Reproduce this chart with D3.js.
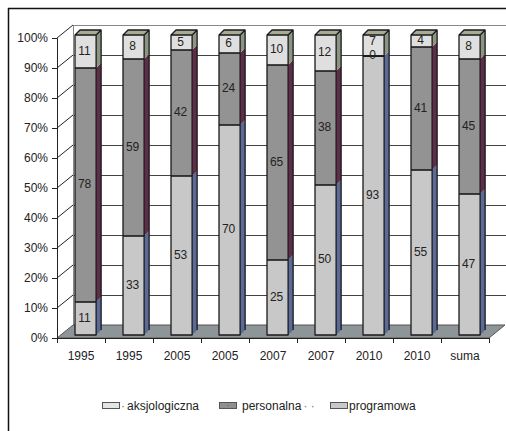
<!DOCTYPE html>
<html>
<head>
<meta charset="utf-8">
<script src="https://cdn.jsdelivr.net/npm/d3@7"></script>
<style>
  html, body { margin: 0; padding: 0; background: #fff; }
  svg { display: block; font-family: "Liberation Sans", Arial, sans-serif; }
</style>
</head>
<body>
<div id="chart"></div>
<script>
// Shares of three categories per survey year (percent, stacked to 100)
const categories    = ["1995", "1995", "2005", "2005", "2007", "2007", "2010", "2010", "suma"];
const programowa    = [11, 33, 53, 70, 25, 50, 93, 55, 47];
const personalna    = [78, 59, 42, 24, 65, 38, 0, 41, 45];
const aksjologiczna = [11, 8, 5, 6, 10, 12, 7, 4, 8];
const yTicks        = [0, 10, 20, 30, 40, 50, 60, 70, 80, 90, 100];
const seriesNames   = ["aksjologiczna", "personalna", "programowa"];

const W = 506, H = 431;
const svg = d3.select("#chart").append("svg").attr("width", W).attr("height", H);

// outer frame (top and left edges)
svg.append("line").attr("x1", 8).attr("x2", W).attr("y1", 8.5).attr("y2", 8.5)
  .attr("stroke", "#111").attr("stroke-width", 1.5);
svg.append("line").attr("x1", 8.5).attr("x2", 8.5).attr("y1", 8).attr("y2", H)
  .attr("stroke", "#111").attr("stroke-width", 1.5);

const x = d3.scaleBand().domain(d3.range(categories.length)).range([57, 489]);
const y = d3.scaleLinear().domain([0, 100]).range([338, 38]);
const bw = x.bandwidth();

// 3D offsets
const wall = { dx: 16, dy: -13 };   // depth of the plot box
const barShift = { dx: 0, dy: -3 }; // bars sit slightly behind front plane
const barDepth = { dx: 5, dy: -5 }; // thickness of each column

const colors = {
  aksjologiczna: { front: "#dfdfdf", side: "#8e9482", top: "#a8aa94" },
  personalna:    { front: "#939393", side: "#5f2d48", top: "#7a6a72" },
  programowa:    { front: "#c8c8c8", side: "#5a6b97", top: "#9aa0b0" }
};

// back wall
const g = svg.append("g");
g.append("rect")
  .attr("x", 57 + wall.dx).attr("y", y(100) + wall.dy)
  .attr("width", W - (57 + wall.dx)).attr("height", y(0) - y(100))
  .attr("fill", "#fff");

// gridlines on back wall
g.selectAll("line.grid").data(yTicks.filter(d => d > 0)).join("line")
  .attr("class", "grid")
  .attr("x1", 57 + wall.dx).attr("x2", W)
  .attr("y1", d => y(d) + wall.dy + 0.5).attr("y2", d => y(d) + wall.dy + 0.5)
  .attr("stroke", d => d === 100 ? "#888" : "#444").attr("stroke-width", 1);

// left edge of back wall
g.append("line")
  .attr("x1", 57 + wall.dx + 0.5).attr("x2", 57 + wall.dx + 0.5)
  .attr("y1", y(100) + wall.dy).attr("y2", y(0) + wall.dy)
  .attr("stroke", "#888");

// side wall diagonals
g.selectAll("line.diag").data(yTicks.filter(d => d > 0)).join("line")
  .attr("class", "diag")
  .attr("x1", 57).attr("y1", d => y(d))
  .attr("x2", 57 + wall.dx).attr("y2", d => y(d) + wall.dy)
  .attr("stroke", "#222").attr("stroke-width", 1);

// floor
g.append("polygon")
  .attr("points", [
    [57, y(0)], [489, y(0)], [489 + wall.dx, y(0) + wall.dy], [57 + wall.dx, y(0) + wall.dy]
  ].map(p => p.join(",")).join(" "))
  .attr("fill", "#8e9598").attr("stroke", "#555").attr("stroke-width", 1);

// stacked data per category
const stacked = categories.map((c, i) => {
  const vals = [
    { key: "programowa", v: programowa[i] },
    { key: "personalna", v: personalna[i] },
    { key: "aksjologiczna", v: aksjologiczna[i] }
  ];
  let acc = 0;
  vals.forEach(s => { s.y0 = acc; acc += s.v; s.y1 = acc; });
  return { i, vals };
});

const bars = svg.append("g");
const barW = bw * 0.44;
stacked.forEach(bar => {
  const x0 = x(bar.i) + bw * 0.375 + barShift.dx;
  const x1 = x0 + barW;
  const gb = bars.append("g");
  bar.vals.forEach(s => {
    if (s.v <= 0) return;
    const yb = y(s.y0) + barShift.dy, yt = y(s.y1) + barShift.dy;
    const col = colors[s.key];
    gb.append("rect").attr("x", x0).attr("y", yt).attr("width", barW).attr("height", yb - yt)
      .attr("fill", col.front);
    gb.append("polygon")
      .attr("points", [[x1, yb], [x1, yt], [x1 + barDepth.dx, yt + barDepth.dy], [x1 + barDepth.dx, yb + barDepth.dy]]
        .map(p => p.join(",")).join(" "))
      .attr("fill", col.side);
  });
  // top face
  const topSeg = bar.vals.filter(s => s.v > 0).slice(-1)[0];
  const ytop = y(topSeg.y1) + barShift.dy;
  gb.append("polygon")
    .attr("points", [[x0, ytop], [x1, ytop], [x1 + barDepth.dx, ytop + barDepth.dy], [x0 + barDepth.dx, ytop + barDepth.dy]]
      .map(p => p.join(",")).join(" "))
    .attr("fill", colors[topSeg.key].top);
  // segment boundaries
  bar.vals.slice(0, -1).forEach(s => {
    const yy = y(s.y1) + barShift.dy;
    gb.append("line").attr("x1", x0).attr("x2", x1).attr("y1", yy).attr("y2", yy)
      .attr("stroke", "#111").attr("stroke-width", 1.5);
  });
  // outline
  const ybot = y(0) + barShift.dy;
  gb.append("path")
    .attr("d", `M${x0},${ybot}V${ytop}H${x1}V${ybot}Z` +
      `M${x0},${ytop}L${x0 + barDepth.dx},${ytop + barDepth.dy}H${x1 + barDepth.dx}L${x1},${ytop}` +
      `M${x1 + barDepth.dx},${ytop + barDepth.dy}V${ybot + barDepth.dy}`)
    .attr("fill", "none").attr("stroke", "#1a1a1a").attr("stroke-width", 1.3)
    .attr("stroke-linejoin", "round");
});

// value labels
const labels = svg.append("g").attr("font-size", 12).attr("fill", "#222").attr("text-anchor", "middle");
stacked.forEach(bar => {
  const cx = x(bar.i) + bw * 0.375 + barShift.dx + barW / 2 - 1;
  let prevY = null;
  bar.vals.forEach(s => {
    let ly = y((s.y0 + s.y1) / 2) + barShift.dy - 1;
    if (prevY !== null && prevY - ly < 13) ly = prevY - 14;
    prevY = ly;
    labels.append("text").attr("x", cx).attr("y", ly).attr("dy", "0.35em").text(s.v);
  });
});

// y axis
const yAxis = svg.append("g").attr("transform", "translate(57,0)")
  .call(d3.axisLeft(y).tickValues(yTicks).tickSize(5).tickPadding(4).tickFormat(d => d + "%"));
yAxis.select(".domain").attr("stroke", "#222");
yAxis.selectAll(".tick line").attr("stroke", "#222");
yAxis.selectAll("text").attr("font-size", 12).attr("fill", "#222")
  .attr("font-family", "Liberation Sans, Arial, sans-serif");

// x axis: boundary ticks plus centred category labels
const xb = d3.scaleLinear().domain([0, categories.length]).range([57, 489]);
const xAxis = svg.append("g").attr("transform", `translate(0,${y(0)})`)
  .call(d3.axisBottom(xb).tickValues(d3.range(categories.length + 1)).tickSize(5).tickFormat(""));
xAxis.select(".domain").attr("stroke", "#222");
xAxis.selectAll(".tick line").attr("stroke", "#222");
const xLab = svg.append("g").attr("transform", `translate(0,${y(0)})`)
  .call(d3.axisBottom(x).tickSize(0).tickPadding(13).tickFormat(i => categories[i]));
xLab.select(".domain").remove();
xLab.selectAll("text").attr("font-size", 12).attr("fill", "#222")
  .attr("font-family", "Liberation Sans, Arial, sans-serif");

// legend
const legend = svg.append("g").attr("font-size", 12).attr("fill", "#222");
const legendItems = [
  { key: "aksjologiczna", sx: 102, pre: "·", tx: 127, post: "" },
  { key: "personalna", sx: 219, pre: "", tx: 242, post: "· ·" },
  { key: "programowa", sx: 330, pre: "", tx: 349, post: "" }
];
legendItems.forEach(it => {
  legend.append("rect").attr("x", it.sx + 0.5).attr("y", 402.5).attr("width", 17).attr("height", 6)
    .attr("fill", it.key === "aksjologiczna" ? "#e4e4e4" : it.key === "personalna" ? "#8f8f8f" : "#c8c8c8")
    .attr("stroke", "#555");
  if (it.key === "personalna")
    legend.append("text").attr("x", it.sx + 9).attr("y", 408).attr("font-size", 8)
      .attr("text-anchor", "middle").attr("fill", "#333").text("·");
  if (it.pre) legend.append("text").attr("x", it.tx - 6).attr("y", 410).attr("fill", "#777").text(it.pre);
  const t = legend.append("text").attr("x", it.tx).attr("y", 410).text(it.key);
  if (it.post) {
    const w = t.node().getComputedTextLength();
    legend.append("text").attr("x", it.tx + w + 2).attr("y", 410).attr("fill", "#777").text(it.post);
  }
});
</script>
</body>
</html>
